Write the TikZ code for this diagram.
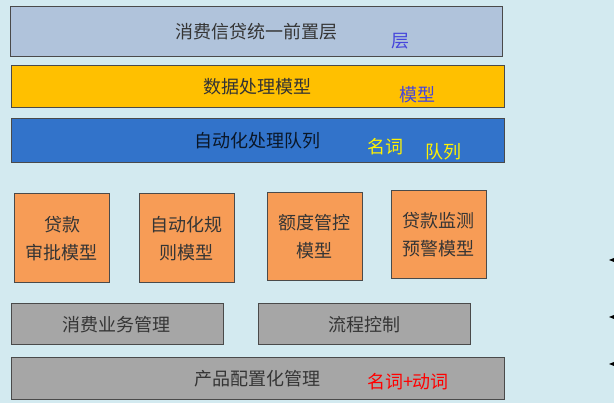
\documentclass[tikz,border=0pt]{standalone}
\usepackage{fontspec}
\setmainfont{Noto Sans CJK SC}
\usepackage{tikz}
\usetikzlibrary{positioning}
\definecolor{lyback}{HTML}{D3EAF0}
\definecolor{lysteel}{HTML}{B0C3DB}
\definecolor{lyyellow}{HTML}{FFC000}
\definecolor{lyblue}{HTML}{3273CA}
\definecolor{lyorange}{HTML}{F79C56}
\definecolor{lygrey}{HTML}{A6A6A6}
\definecolor{lyedge}{HTML}{4A4A4A}
\definecolor{lytext}{HTML}{353535}
\definecolor{lynote}{HTML}{4646DC}

\begin{document}
\begin{tikzpicture}[
      x=1pt, y=-1pt,
      font=\fontsize{18}{28}\selectfont,
      layer/.style={draw=lyedge, line width=1pt, text=lytext, inner sep=0pt},
      model/.style={layer, fill=lyorange, align=center,
                    minimum width=95pt, minimum height=89pt},
      note/.style={inner sep=0pt},
    ]
    \useasboundingbox (0,0) rectangle (614,403);
    \fill[lyback] (0,0) rectangle (614,403);

    % ---------------- top layers
    \node[layer, fill=lysteel, minimum width=492pt, minimum height=50pt]
      (front) at (256,32) {消费信贷统一前置层};
    \node[layer, fill=lyyellow, text=black!80, minimum width=493pt, minimum height=42pt]
      (data) at (257.5,87) {数据处理模型};
    \node[layer, fill=lyblue, text=lyblue!20!black, minimum width=493pt, minimum height=44pt]
      (queue) at (257.5,141) {自动化处理队列};

    % ---------------- models
    \node[model] (loan)  at (62,238.5)  {贷款\\审批模型};
    \node[model] (rule)  at (186.5,238.5) {自动化规\\则模型};
    \node[model, minimum height=88pt] (quota) at (314.5,237) {额度管控\\模型};
    \node[model, minimum height=88pt] (watch) at (438.5,235) {贷款监测\\预警模型};

    % ---------------- management
    \node[layer, fill=lygrey, minimum width=212pt, minimum height=41pt]
      (biz) at (117,324.5) {消费业务管理};
    \node[layer, fill=lygrey, minimum width=212pt, minimum height=41pt]
      (flow) at (364,324.5) {流程控制};
    \node[layer, fill=lygrey, minimum width=493pt, minimum height=42pt]
      (conf) at (257.5,379) {产品配置化管理};

    % ---------------- notes
    \node[note, lynote] (n1) at (400,41) {层};
    \node[note, lynote] (n2) at (417,95) {模型};
    \node[note, yellow] (n3) at (385,147) {名词};
    \node[note, yellow] (n4) at (443,152) {队列};
    \node[note, red]    (n5) at (408,382) {名词+动词};

    % ---------------- arrow tips at the edge
    \foreach \ty in {260,317,364}
      \fill[black] (614,\ty-2) -- (609,\ty) -- (614,\ty+2) -- cycle;
  \end{tikzpicture}
\end{document}
